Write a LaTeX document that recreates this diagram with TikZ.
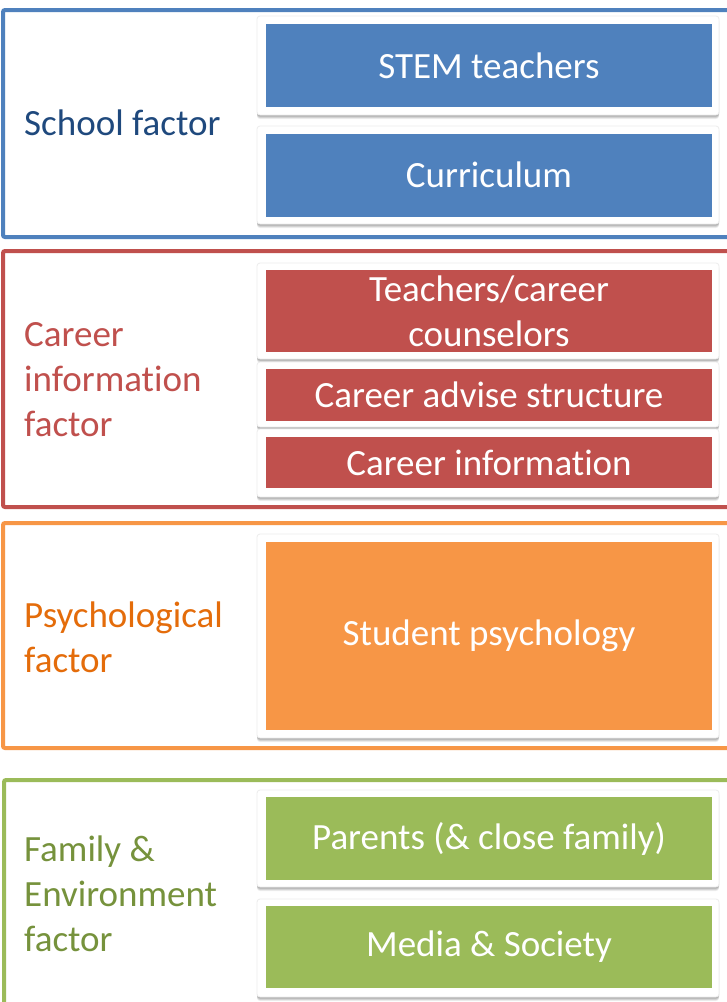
\documentclass[tikz,border=0pt]{standalone}
\usepackage{fontspec}
\setmainfont{Carlito}[Ligatures=NoCommon]
\usetikzlibrary{shadows}
\definecolor{sblue}{HTML}{4F81BD}
\definecolor{sbluetxt}{HTML}{1F497D}
\definecolor{sred}{HTML}{C0504D}
\definecolor{sorange}{HTML}{F79646}
\definecolor{sorangetxt}{HTML}{E46C0A}
\definecolor{sgreen}{HTML}{9BBB59}
\definecolor{sgreentxt}{HTML}{76923C}
\tikzset{
  frame/.style={line width=4pt, rounded corners=2pt},
  % white card with a soft, layered shadow underneath
  card/.style={fill=white, draw=black!7, line width=0.8pt, rounded corners=3pt,
    inner sep=0pt, minimum width=462pt,
    general shadow={shadow yshift=-1pt, opacity=0.10, fill=black},
    general shadow={shadow yshift=-2pt, opacity=0.10, fill=black},
    general shadow={shadow yshift=-3pt, opacity=0.10, fill=black},
    general shadow={shadow yshift=-4pt, opacity=0.07, fill=black}},
  bar/.style={text=white, inner sep=0pt, minimum width=446pt, align=center,
    font=\fontsize{37}{45}\selectfont},
  lbl/.style={anchor=west, align=left, inner sep=0pt, font=\fontsize{37}{45}\selectfont}
}
\begin{document}
\begin{tikzpicture}[x=1pt,y=-1pt]
\useasboundingbox (0,0) rectangle (727,1002);
\clip (0,0) rectangle (727,1002);
\fill[white] (0,0) rectangle (727,1002);

% School factor
\draw[frame, sblue] (3,10) rectangle (745,237);
\node[lbl, text=sbluetxt] (school) at (24,123) {School factor};
\node[card, minimum height=99pt] (c1) at (488,65.5) {};
\node[bar, fill=sblue, minimum height=83pt] (stem) at (489,65.5) {STEM teachers};
\node[card, minimum height=98pt] (c2) at (488,175) {};
\node[bar, fill=sblue, minimum height=83pt] (curr) at (489,175) {Curriculum};

% Career information factor
\draw[frame, sred] (3,251) rectangle (745,507);
\node[lbl, text=sred] (career) at (24,380) {Career\\information\\factor};
\node[card, minimum height=96pt] (c3) at (488,311) {};
\node[bar, fill=sred, minimum height=82pt] (teach) at (489,311) {Teachers/career\\counselors};
\node[card, minimum height=65pt] (c4) at (488,394.5) {};
\node[bar, fill=sred, minimum height=52pt] (advise) at (489,394.5) {Career advise structure};
\node[card, minimum height=68pt] (c5) at (488,463) {};
\node[bar, fill=sred, minimum height=51pt] (info) at (489,462.5) {Career information};

% Psychological factor
\draw[frame, sorange] (3,523) rectangle (745,748);
\node[lbl, text=sorangetxt] (psych) at (24,637) {Psychological\\factor};
\node[card, minimum height=204pt] (c6) at (488,636) {};
\node[bar, fill=sorange, minimum height=188pt] (student) at (489,636) {Student psychology};

% Family & Environment factor
\draw[frame, sgreen] (4,780) rectangle (745,1020);
\node[lbl, text=sgreentxt] (family) at (24,894) {Family \&\\Environment\\factor};
\node[card, minimum height=97pt] (c7) at (488,838.5) {};
\node[bar, fill=sgreen, minimum height=83pt] (parents) at (489,838.5) {Parents (\& close family)};
\node[card, minimum height=98pt] (c8) at (488,948) {};
\node[bar, fill=sgreen, minimum height=82pt] (media) at (489,947) {Media \& Society};
\end{tikzpicture}
\end{document}
